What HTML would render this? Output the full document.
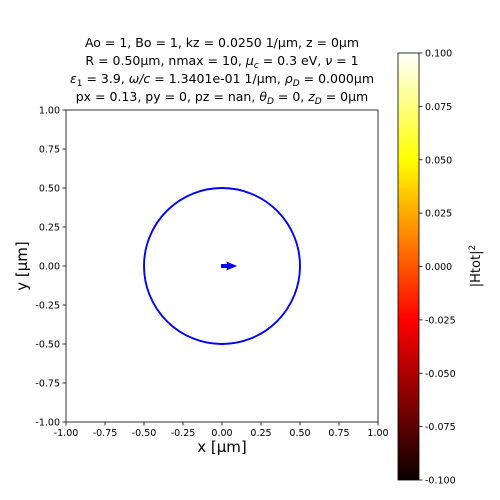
<!DOCTYPE html>
<html><head><meta charset="utf-8"><style>
body{margin:0;background:#fff}
svg{display:block;font-family:"DejaVu Sans","Liberation Sans",sans-serif}
</style></head><body>
<svg width="500" height="500" viewBox="0 0 500 500">
<defs><linearGradient id="hot" x1="0" y1="1" x2="0" y2="0">
<stop offset="0" stop-color="#0b0000"/><stop offset="0.375" stop-color="#ff0000"/>
<stop offset="0.75" stop-color="#ffff00"/><stop offset="1" stop-color="#ffffff"/></linearGradient></defs>
<g font-size="12.5" text-anchor="middle" fill="#000">
<text x="222" y="47">Ao = 1, Bo = 1, kz = 0.0250 1/μm, z = 0μm</text>
<text x="222" y="65">R = 0.50μm, nmax = 10, <tspan font-style="italic">μ</tspan><tspan font-size="9" dy="3" font-style="italic">c</tspan><tspan dy="-3"> = 0.3 eV, </tspan><tspan font-style="italic">ν</tspan> = 1</text>
<text x="222" y="83"><tspan font-style="italic">ε</tspan><tspan font-size="9" dy="3">1</tspan><tspan dy="-3"> = 3.9, </tspan><tspan font-style="italic">ω/c</tspan> = 1.3401e-01 1/μm, <tspan font-style="italic">ρ</tspan><tspan font-size="9" dy="3" font-style="italic">D</tspan><tspan dy="-3"> = 0.000μm</tspan></text>
<text x="222" y="101">px = 0.13, py = 0, pz = nan, <tspan font-style="italic">θ</tspan><tspan font-size="9" dy="3" font-style="italic">D</tspan><tspan dy="-3"> = 0, </tspan><tspan font-style="italic">z</tspan><tspan font-size="9" dy="3" font-style="italic">D</tspan><tspan dy="-3"> = 0μm</tspan></text>
</g>
<g id="axes"></g>
<rect x="398" y="53" width="21" height="427" fill="url(#hot)" stroke="#000" stroke-width="0.8"/>
<g id="cbticks"></g>
<text x="480" y="266" font-size="13" text-anchor="middle" transform="rotate(-90 480 266)">|Htot|<tspan font-size="9" dy="-5">2</tspan></text>
<text x="222" y="452" font-size="15" text-anchor="middle">x [μm]</text>
<text x="27" y="266" font-size="15" text-anchor="middle" transform="rotate(-90 27 266)">y [μm]</text>
</svg>
<script>
const xTicks=[-1,-0.75,-0.5,-0.25,0,0.25,0.5,0.75,1];
const yTicks=[-1,-0.75,-0.5,-0.25,0,0.25,0.5,0.75,1];
const cbTicks=[-0.1,-0.075,-0.05,-0.025,0,0.025,0.05,0.075,0.1];
const circleRadius=[0.5];
const dipole=[0.13,0];
const NS="http://www.w3.org/2000/svg";
const X=v=>222+v*156, Y=v=>266-v*156, C=v=>266.5-v*2135;
function mk(t,a,p){const e=document.createElementNS(NS,t);for(const k in a)e.setAttribute(k,a[k]);p.appendChild(e);return e;}
const g=document.getElementById('axes');
const r=mk('rect',{x:66,y:110,width:312,height:312,fill:'none',stroke:'#000','stroke-width':0.8},g);


xTicks.forEach(v=>{mk('line',{x1:X(v),x2:X(v),y1:422,y2:425.5,stroke:'#000','stroke-width':0.8},g);
const t=mk('text',{x:X(v),y:436,'font-size':9.5,'text-anchor':'middle'},g);t.textContent=v.toFixed(2);

});
yTicks.forEach(v=>{mk('line',{x1:62.5,x2:66,y1:Y(v),y2:Y(v),stroke:'#000','stroke-width':0.8},g);
const t=mk('text',{x:60,y:Y(v)+3.5,'font-size':9.5,'text-anchor':'end'},g);t.textContent=v.toFixed(2);

});
circleRadius.forEach(rv=>{const c=mk('circle',{cx:X(0),cy:Y(0),r:rv*156,fill:'none',stroke:'#0000ff','stroke-width':1.9},g);

});
const x0=X(0)-1,x1=X(dipole[0]*0.75),y0=Y(dipole[1]);
const a=mk('path',{d:`M${x0} ${y0-2}L${x1-10} ${y0-2}L${x1-11} ${y0-4.5}L${x1} ${y0}L${x1-11} ${y0+4.5}L${x1-10} ${y0+2}L${x0} ${y0+2}Z`,fill:'#0000ff'},g);


const cg=document.getElementById('cbticks');
cbTicks.forEach(v=>{mk('line',{x1:419,x2:422.5,y1:C(v),y2:C(v),stroke:'#000','stroke-width':0.8},cg);
const t=mk('text',{x:425,y:C(v)+3.5,'font-size':9.5},cg);t.textContent=v.toFixed(3);

});
</script>
</body></html>
